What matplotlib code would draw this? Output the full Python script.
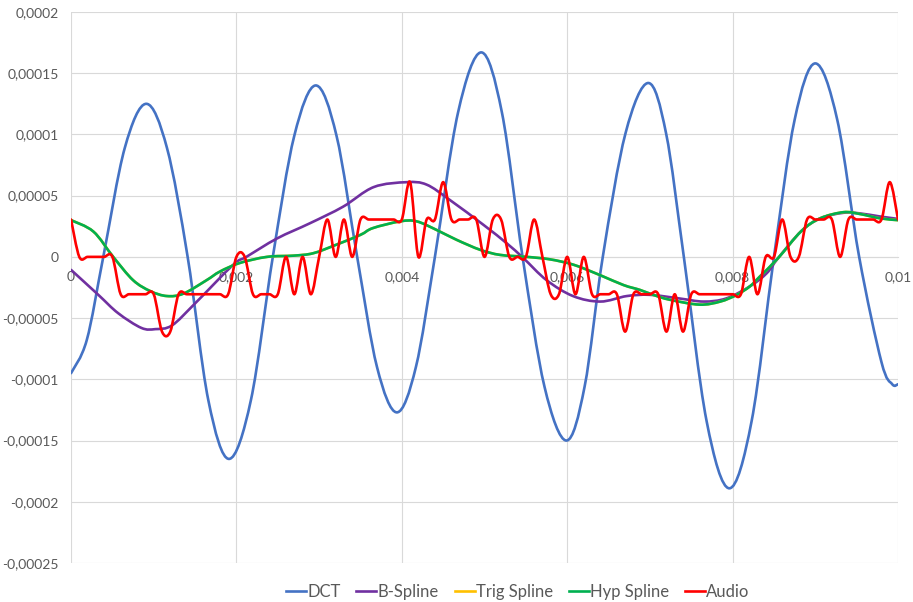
import numpy as np
import matplotlib
matplotlib.use("Agg")
import matplotlib.pyplot as plt
from matplotlib.path import Path
from matplotlib.patches import PathPatch
from matplotlib.lines import Line2D

plt.rcParams['font.family'] = ['Lato', 'DejaVu Sans']

# x in ms, y in units of 1e-5
dct_x = [0.0, 0.19, 0.39, 0.65, 0.91, 1.16, 1.41, 1.66, 1.91, 2.175, 2.44, 2.70, 2.96,
         3.21, 3.46, 3.70, 3.94, 4.17, 4.40, 4.68, 4.96, 5.21, 5.46, 5.725, 5.99, 6.21,
         6.43, 6.705, 6.98, 7.195, 7.41, 7.685, 7.96, 8.23, 8.50, 8.75, 9.00, 9.265,
         9.53, 9.80, 9.93, 10.0]
dct_y = [-9.5, -6.8, 0.0, 8.9, 12.5, 8.9, 0.0, -11.7, -16.5, -11.7, 0.0, 9.9, 14.0,
         9.9, 0.0, -9.0, -12.7, -9.0, 0.0, 11.8, 16.7, 11.8, 0.0, -10.6, -15.0, -10.6,
         0.0, 10.1, 14.2, 10.1, 0.0, -13.4, -18.9, -13.4, 0.0, 11.2, 15.8, 11.2,
         0.0, -8.6, -10.4, -10.4]

bspline_x = [0.0, 0.33, 0.57, 0.85, 1.02, 1.22, 1.50, 1.96, 2.12, 2.49, 2.89, 3.29, 3.66,
             4.06, 4.30, 4.58, 4.99, 5.27, 5.47, 5.75, 6.07, 6.40, 6.72, 7.00, 7.36, 7.65,
             7.92, 8.21, 8.41, 8.55, 8.83, 9.06, 9.34, 9.54, 9.78, 10.0]
bspline_y = [-1.06, -3.1, -4.6, -5.8, -5.9, -5.6, -3.8, -0.65, 0.0, 1.5, 2.75, 4.1, 5.7,
             6.1, 5.9, 4.65, 2.6, 1.1, -0.1, -1.9, -3.2, -3.65, -3.2, -3.1, -3.4, -3.65,
             -3.4, -2.4, -1.35, -0.1, 2.1, 3.15, 3.6, 3.55, 3.3, 3.1]

hyp_x = [0.0, 0.27, 0.51, 0.75, 0.96, 1.16, 1.36, 1.64, 1.80, 2.04, 2.37, 2.69, 2.93,
         3.21, 3.50, 3.65, 3.98, 4.18, 4.42, 4.66, 4.95, 5.19, 5.51, 5.79, 6.08, 6.40,
         6.68, 6.88, 7.04, 7.24, 7.60, 7.85, 8.05, 8.21, 8.33, 8.55, 8.83, 9.06, 9.34,
         9.54, 9.78, 10.0]
hyp_y = [3.0, 2.07, 0.0, -1.9, -2.8, -3.2, -3.0, -1.9, -1.2, -0.5, 0.0, 0.1, 0.3,
         1.0, 1.8, 2.35, 2.9, 2.9, 2.2, 1.4, 0.57, 0.16, 0.0, -0.2, -0.65, -1.5,
         -2.3, -2.7, -3.1, -3.5, -3.9, -3.65, -3.1, -2.4, -1.6, -0.1, 2.1, 3.15, 3.65,
         3.5, 3.15, 3.0]

# trig spline sits exactly under the hyp spline in the picture
trig_x = list(hyp_x)
trig_y = list(hyp_y)

# audio samples every 0.1 ms, 16-bit PCM codes
audio_codes = [1, 0, 0, 0, 0, 0, -1, -1, -1, -1, -1, -2, -2, -1, -1, -1, -1, -1, -1, -1,
               0, 0, -1, -1, -1, -1, 0, -1, 0, -1, 0, 1, 0, 1, 0, 1, 1, 1, 1, 1,
               1, 2, 0, 1, 1, 2, 1, 1, 1, 1, 0, 1, 1, 0, 0, 0, 1, 0, -1, -1,
               0, -1, 0, -1, -1, -1, -1, -2, -1, -1, -1, -1, -2, -1, -2, -1, -1, -1, -1, -1,
               -1, -1, 0, -1, 0, 0, 1, 0, 0, 1, 1, 1, 1, 0, 1, 1, 1, 1, 1, 2, 1]
audio_x = np.arange(len(audio_codes)) * 0.1
audio_y = np.array(audio_codes) / 32768 / 1e-5

x_ticks = [0, 0.002, 0.004, 0.006, 0.008, 0.01]
x_labels = ["0", "0,002", "0,004", "0,006", "0,008", "0,01"]
y_ticks = [0.0002, 0.00015, 0.0001, 0.00005, 0, -0.00005, -0.0001, -0.00015, -0.0002, -0.00025]
y_labels = ["0,0002", "0,00015", "0,0001", "0,00005", "0", "-0,00005", "-0,0001",
            "-0,00015", "-0,0002", "-0,00025"]

series = [
    ("DCT", dct_x, dct_y, "#4472C4"),
    ("B-Spline", bspline_x, bspline_y, "#7030A0"),
    ("Trig Spline", trig_x, trig_y, "#FFC000"),
    ("Hyp Spline", hyp_x, hyp_y, "#00B050"),
    ("Audio", audio_x, audio_y, "#FF0000"),
]


def smooth_path(xs, ys):
    # Excel style smoothed line: Catmull-Rom as cubic Bezier
    p = np.column_stack([np.asarray(xs) * 1e-3, np.asarray(ys) * 1e-5])
    n = len(p)
    verts = [p[0]]
    codes = [Path.MOVETO]
    for i in range(n - 1):
        p0 = p[max(i - 1, 0)]
        p1 = p[i]
        p2 = p[i + 1]
        p3 = p[min(i + 2, n - 1)]
        verts += [p1 + (p2 - p0) / 6, p2 - (p3 - p1) / 6, p2]
        codes += [Path.CURVE4] * 3
    return Path(verts, codes)


fig = plt.figure(figsize=(9.13, 6.02), dpi=100)
ax = fig.add_axes([0.0778, 0.0648, 0.9058, 0.9153])

handles = []
for z, (name, xs, ys, col) in enumerate(series):
    patch = PathPatch(smooth_path(xs, ys), fill=False, edgecolor=col, lw=1.9,
                      capstyle='round', joinstyle='round', zorder=3 + z)
    ax.add_patch(patch)
    handles.append(Line2D([], [], color=col, lw=1.9, label=name))

ax.set_xlim(0, 0.01)
ax.set_ylim(-0.00025, 0.0002)
ax.set_xticks(x_ticks)
ax.set_xticklabels(x_labels)
ax.set_yticks(y_ticks)
ax.set_yticklabels(y_labels)
ax.grid(True, color="#D9D9D9", lw=0.8)
ax.set_axisbelow(True)

for s in ["top", "right", "left"]:
    ax.spines[s].set_visible(False)
ax.spines["bottom"].set_position(("data", 0))
ax.spines["bottom"].set_color("#D9D9D9")
ax.tick_params(length=0, labelsize=10, labelcolor="#595959")
ax.tick_params(axis="x", pad=10)
ax.tick_params(axis="y", pad=9)

fig.legend(handles=handles, loc="center", bbox_to_anchor=(0.567, 0.017), ncol=5,
           frameon=False, fontsize=12, handlelength=1.2, handletextpad=0.06,
           columnspacing=0.96, labelcolor="#595959")

fig.savefig("out.png", dpi=100)
